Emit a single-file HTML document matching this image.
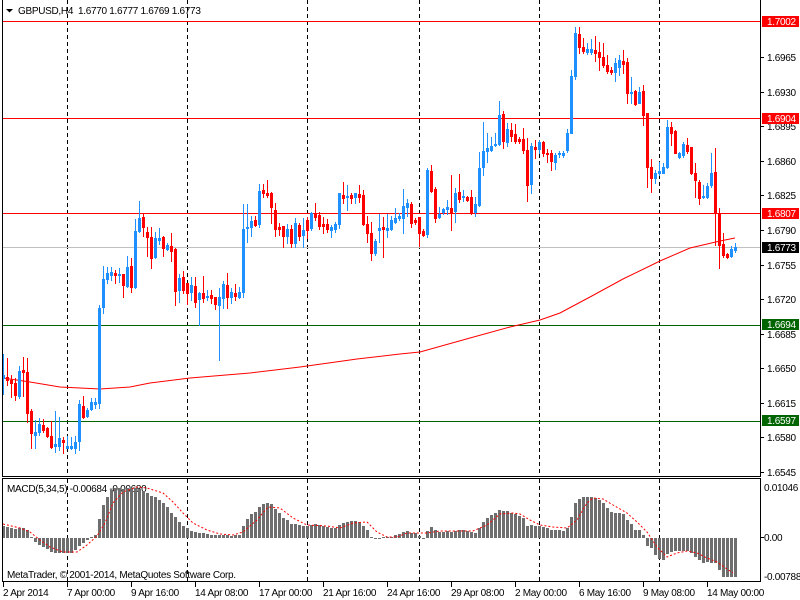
<!DOCTYPE html>
<html><head><meta charset="utf-8">
<style>
html,body{margin:0;padding:0;background:#fff;}
svg{display:block;}
text{font-family:"Liberation Sans",sans-serif;font-size:10px;letter-spacing:-0.3px;fill:#000;}
.w{fill:#fff;}
</style></head>
<body>
<svg id="s" width="800" height="600" viewBox="0 0 800 600" xmlns="http://www.w3.org/2000/svg">
<rect x="0" y="0" width="800" height="600" fill="#fff"/>
<g shape-rendering="crispEdges">
<!-- vertical dashed grid -->
<g stroke="#000" stroke-width="1" stroke-dasharray="4,3">
<line x1="67.5" y1="0" x2="67.5" y2="476"/><line x1="67.5" y1="479" x2="67.5" y2="581"/>
<line x1="187.5" y1="0" x2="187.5" y2="476"/><line x1="187.5" y1="479" x2="187.5" y2="581"/>
<line x1="307.5" y1="0" x2="307.5" y2="476"/><line x1="307.5" y1="479" x2="307.5" y2="581"/>
<line x1="419.5" y1="0" x2="419.5" y2="476"/><line x1="419.5" y1="479" x2="419.5" y2="581"/>
<line x1="539.5" y1="0" x2="539.5" y2="476"/><line x1="539.5" y1="479" x2="539.5" y2="581"/>
<line x1="659.5" y1="0" x2="659.5" y2="476"/><line x1="659.5" y1="479" x2="659.5" y2="581"/>
</g>
<!-- horizontal level lines -->
<line x1="3" y1="247.5" x2="760" y2="247.5" stroke="#C0C0C0"/>
<line x1="3" y1="21.5" x2="760" y2="21.5" stroke="#FF0000"/>
<line x1="3" y1="118.5" x2="760" y2="118.5" stroke="#FF0000"/>
<line x1="3" y1="213.5" x2="760" y2="213.5" stroke="#FF0000"/>
<line x1="3" y1="325.5" x2="760" y2="325.5" stroke="#006400"/>
<line x1="3" y1="421.5" x2="760" y2="421.5" stroke="#006400"/>
</g>
<!-- moving average -->
<polyline fill="none" stroke="#FF0000" stroke-width="1" points="3,378 30,382 60,387 100,389 130,387 150,383 190,378 250,373 300,367 357,359 400,354 420,352 470,338 510,327 540,320 560,313 590,297 623,279 660,261 690,248 720,241 735,238"/>
<g id="candles" shape-rendering="crispEdges"></g>

<!-- MACD texts (under bars) -->
<text x="7" y="492">MACD(5,34,5) -0.00684 -0.00680</text>
<g id="macd" shape-rendering="crispEdges"></g>
<polyline fill="none" stroke="#FF0000" stroke-width="1" stroke-dasharray="2,2" points="3,524 20,528 30,532 40,540 50,547 63,552 77,552 87,545 97,536 105,523 113,503 123,492 137,487 147,488 163,493 173,502 183,513 193,523 207,530 220,534 233,535 243,532 257,520 268,507 280,508 293,518 307,525 327,526 340,528 353,523 367,522 377,532 387,537 397,537 407,533 417,533 427,533 440,531 460,531 473,531 487,525 500,514 513,513 520,514 530,520 540,525 553,527 567,528 577,520 587,503 593,498 603,499 613,505 627,513 637,522 647,532 657,547 667,557 677,553 687,551 697,553 707,558 717,562 727,569 733,573"/>
<text x="7" y="578">MetaTrader, © 2001-2014, MetaQuotes Software Corp.</text>

<!-- borders -->
<g shape-rendering="crispEdges" stroke="#000" stroke-width="1" fill="none">
<line x1="2.5" y1="0" x2="2.5" y2="476"/>
<line x1="760.5" y1="0" x2="760.5" y2="476"/>
<line x1="2" y1="476.5" x2="761" y2="476.5"/>
<line x1="2" y1="478.5" x2="761" y2="478.5"/>
<line x1="2.5" y1="478" x2="2.5" y2="582"/>
<line x1="760.5" y1="478" x2="760.5" y2="582"/>
<line x1="2" y1="581.5" x2="761" y2="581.5"/>
<!-- right ticks -->
<line x1="761" y1="57.5" x2="764" y2="57.5"/>
<line x1="761" y1="92.5" x2="764" y2="92.5"/>
<line x1="761" y1="126.5" x2="764" y2="126.5"/>
<line x1="761" y1="161.5" x2="764" y2="161.5"/>
<line x1="761" y1="195.5" x2="764" y2="195.5"/>
<line x1="761" y1="230.5" x2="764" y2="230.5"/>
<line x1="761" y1="265.5" x2="764" y2="265.5"/>
<line x1="761" y1="299.5" x2="764" y2="299.5"/>
<line x1="761" y1="334.5" x2="764" y2="334.5"/>
<line x1="761" y1="368.5" x2="764" y2="368.5"/>
<line x1="761" y1="403.5" x2="764" y2="403.5"/>
<line x1="761" y1="437.5" x2="764" y2="437.5"/>
<line x1="761" y1="472.5" x2="764" y2="472.5"/>
<line x1="761" y1="537.5" x2="764" y2="537.5"/>
<!-- time ticks -->
<line x1="3.5" y1="582" x2="3.5" y2="587"/>
<line x1="67.5" y1="582" x2="67.5" y2="587"/>
<line x1="131.5" y1="582" x2="131.5" y2="587"/>
<line x1="195.5" y1="582" x2="195.5" y2="587"/>
<line x1="259.5" y1="582" x2="259.5" y2="587"/>
<line x1="323.5" y1="582" x2="323.5" y2="587"/>
<line x1="387.5" y1="582" x2="387.5" y2="587"/>
<line x1="451.5" y1="582" x2="451.5" y2="587"/>
<line x1="515.5" y1="582" x2="515.5" y2="587"/>
<line x1="579.5" y1="582" x2="579.5" y2="587"/>
<line x1="643.5" y1="582" x2="643.5" y2="587"/>
<line x1="707.5" y1="582" x2="707.5" y2="587"/>
</g>

<!-- title -->
<polygon points="6,9 13,9 9.5,12.5" fill="#000"/>
<text x="18" y="14">GBPUSD,H4</text>
<text x="78" y="14">1.6770 1.6777 1.6769 1.6773</text>

<!-- price axis labels -->
<text x="767" y="61">1.6965</text>
<text x="767" y="96">1.6930</text>
<text x="767" y="130">1.6895</text>
<text x="767" y="165">1.6860</text>
<text x="767" y="199">1.6825</text>
<text x="767" y="234">1.6790</text>
<text x="767" y="269">1.6755</text>
<text x="767" y="303">1.6720</text>
<text x="767" y="338">1.6685</text>
<text x="767" y="372">1.6650</text>
<text x="767" y="407">1.6615</text>
<text x="767" y="441">1.6580</text>
<text x="767" y="476">1.6545</text>

<g shape-rendering="crispEdges">
<rect x="762" y="16" width="37" height="11" fill="#FF0000"/>
<rect x="762" y="113" width="37" height="11" fill="#FF0000"/>
<rect x="762" y="208" width="37" height="11" fill="#FF0000"/>
<rect x="762" y="242" width="37" height="11" fill="#000"/>
<rect x="762" y="319" width="37" height="11" fill="#006400"/>
<rect x="762" y="415" width="37" height="11" fill="#006400"/>
</g>
<text class="w" x="767" y="25">1.7002</text>
<text class="w" x="767" y="122">1.6904</text>
<text class="w" x="767" y="217">1.6807</text>
<text class="w" x="767" y="251">1.6773</text>
<text class="w" x="767" y="328">1.6694</text>
<text class="w" x="767" y="424">1.6597</text>

<!-- MACD axis -->
<text x="764" y="491">0.01046</text>
<text x="764" y="541">0.00</text>
<text x="764" y="580">-0.00788</text>

<!-- time labels -->
<text x="3" y="596">2 Apr 2014</text>
<text x="67" y="596">7 Apr 00:00</text>
<text x="131" y="596">9 Apr 16:00</text>
<text x="195" y="596">14 Apr 08:00</text>
<text x="259" y="596">17 Apr 00:00</text>
<text x="323" y="596">21 Apr 16:00</text>
<text x="387" y="596">24 Apr 16:00</text>
<text x="451" y="596">29 Apr 08:00</text>
<text x="515" y="596">2 May 00:00</text>
<text x="579" y="596">6 May 16:00</text>
<text x="643" y="596">9 May 08:00</text>
<text x="707" y="596">14 May 00:00</text>
</svg>
<script>
var C=[[1,375,378,354,394],[0,377,380,358,385],[0,380,383,375,397],[0,383,395,378,400],[1,371,396,366,398],[0,370,372,357,396],[0,372,413,358,422],[0,411,433,409,448],[1,432,435,420,448],[1,424,432,418,435],
[0,425,430,419,432],[0,428,436,427,437],[0,436,447,421,448],[1,444,446,411,452],[1,438,446,417,450],[0,440,442,437,453],[1,446,448,436,448],[1,446,448,437,449],[1,442,448,436,453],[1,404,441,400,450],
[0,406,417,396,418],[1,410,416,408,417],[1,402,409,398,410],[1,402,404,398,408],[1,308,403,305,408],[1,279,307,266,313],[1,273,279,267,283],[1,272,275,267,280],[0,273,275,270,283],[1,274,275,268,282],
[0,274,285,274,297],[1,267,286,256,287],[0,266,287,258,292],[1,231,287,219,288],[1,218,231,201,232],[0,217,227,213,236],[0,232,237,227,256],[0,237,258,227,268],[1,238,257,232,258],[1,238,240,228,244],
[0,237,248,236,256],[1,245,249,243,250],[0,246,251,233,261],[0,249,291,248,305],[1,278,290,274,302],[0,277,290,271,293],[0,283,293,283,304],[1,285,292,277,300],[0,286,302,277,307],[1,293,299,292,325],
[0,293,298,276,302],[1,296,297,290,300],[0,295,298,290,303],[0,297,304,297,309],[1,297,305,288,360],[1,284,298,281,308],[0,285,297,273,308],[1,292,297,288,303],[0,293,296,284,300],[1,292,297,287,298],
[1,229,292,204,297],[1,227,228,204,242],[1,221,227,216,236],[0,220,225,216,226],[1,191,224,184,227],[0,190,193,184,197],[0,193,195,180,197],[0,193,207,192,223],[0,210,229,203,236],[0,227,229,223,235],
[0,226,236,226,247],[1,229,236,224,243],[0,229,243,225,247],[1,223,243,218,247],[0,225,236,223,240],[1,230,235,218,247],[0,220,230,217,238],[1,213,228,212,230],[0,213,217,203,220],[0,215,226,212,229],
[0,224,226,217,233],[0,224,229,219,232],[1,227,230,225,237],[1,224,229,222,232],[1,193,224,193,228],[0,195,198,182,203],[1,196,197,185,210],[0,195,198,193,203],[1,193,197,193,203],[0,194,197,185,202],
[0,195,224,190,225],[0,224,233,216,242],[0,233,253,222,260],[1,241,253,239,255],[1,228,230,214,242],[0,227,229,217,257],[1,228,230,214,237],[1,220,229,216,230],[1,218,222,208,223],[1,216,218,213,220],
[1,206,218,189,233],[1,203,207,199,216],[0,204,223,202,227],[0,220,222,218,224],[0,217,233,217,246],[0,231,235,229,236],[1,170,234,168,237],[0,171,191,165,192],[0,189,218,187,222],[1,214,217,207,218],
[1,209,212,208,214],[1,207,209,200,214],[0,208,212,175,230],[1,193,211,188,222],[0,192,199,174,202],[1,196,197,190,201],[0,197,200,196,201],[0,197,213,190,214],[1,204,212,197,216],[1,168,205,152,206],
[1,151,167,122,175],[1,148,151,133,162],[1,146,150,137,151],[1,144,145,133,146],[1,115,144,101,145],[0,114,141,111,148],[1,129,142,123,146],[0,130,136,123,141],[0,134,141,124,143],[0,139,141,137,143],
[0,139,150,128,153],[0,150,185,138,201],[1,146,184,143,193],[0,147,149,140,158],[1,142,149,140,153],[0,142,153,141,156],[0,153,154,149,162],[0,153,161,150,170],[1,155,162,153,169],[1,153,154,151,157],
[1,153,155,151,157],[1,133,150,129,152],[1,76,133,70,133],[1,33,76,27,79],[0,34,47,27,53],[0,47,51,38,53],[1,49,52,43,54],[1,49,52,39,54],[0,50,53,36,61],[0,52,57,42,70],
[0,57,65,43,67],[0,65,71,55,73],[0,70,72,67,74],[1,63,72,58,81],[1,60,67,55,75],[0,61,64,50,73],[0,62,93,58,103],[1,92,93,77,103],[0,91,104,90,105],[1,92,103,87,103],
[0,91,115,85,125],[0,113,167,113,187],[0,167,178,159,192],[1,173,178,170,183],[1,171,173,162,175],[1,167,173,163,173],[1,127,167,120,168],[0,127,133,122,145],[0,131,153,130,153],[1,153,157,152,158],
[1,144,155,142,157],[0,145,151,138,153],[0,147,173,147,174],[0,173,180,163,197],[0,182,198,180,204],[1,196,197,185,198],[1,186,197,183,198],[1,173,185,153,187],[0,172,213,148,245],[0,213,245,208,268],
[0,244,255,233,257],[0,254,257,253,258],[1,249,256,246,257],[1,247,250,243,252]];
var M=[526,527,528,529,528,528,530,538,542,545,547,549,552,553,553,553,553,553,550,546,543,540,538,535,519,505,497,490,488,488,489,488,488,488,489,491,493,496,497,500,503,507,513,517,522,526,528,531,532,533,533,534,535,535,535,535,535,536,535,535,526,519,514,512,507,504,503,504,509,513,518,520,524,524,525,526,526,525,524,525,526,527,528,528,525,523,522,521,521,522,526,530,537,539,539,538,538,537,535,534,532,531,533,533,536,539,531,527,530,532,532,531,532,531,530,530,531,532,533,528,522,518,515,513,510,511,511,513,514,516,518,526,525,526,526,527,528,530,530,530,531,528,517,503,499,497,497,497,498,500,503,508,512,513,513,514,520,524,530,530,535,546,548,555,559,560,554,552,551,551,551,551,553,557,560,563,562,563,563,570,577,577,577,577];
var NS="http://www.w3.org/2000/svg";
function R(g,x,y,w,h,f){var r=document.createElementNS(NS,"rect");r.setAttribute("x",x);r.setAttribute("y",y);r.setAttribute("width",w);r.setAttribute("height",h);r.setAttribute("fill",f);g.appendChild(r);}
var g=document.getElementById("candles");
for(var i=0;i<C.length;i++){var d=C[i],x=3+4*i,col=d[0]?"#1E90FF":"#FF0000";
R(g,x,d[3],1,Math.max(1,d[4]-d[3]+1),col);
R(g,x-1,d[1],3,Math.max(1,d[2]-d[1]+1),col);}
var m=document.getElementById("macd");
for(var j=0;j<M.length;j++){var v=M[j],xx=2+4*j;
if(v<538)R(m,xx,v,3,538-v,"#6E6E6E");else if(v>538)R(m,xx,538,3,v-538,"#6E6E6E");else R(m,xx,537,3,1,"#6E6E6E");}
</script>
</body></html>
